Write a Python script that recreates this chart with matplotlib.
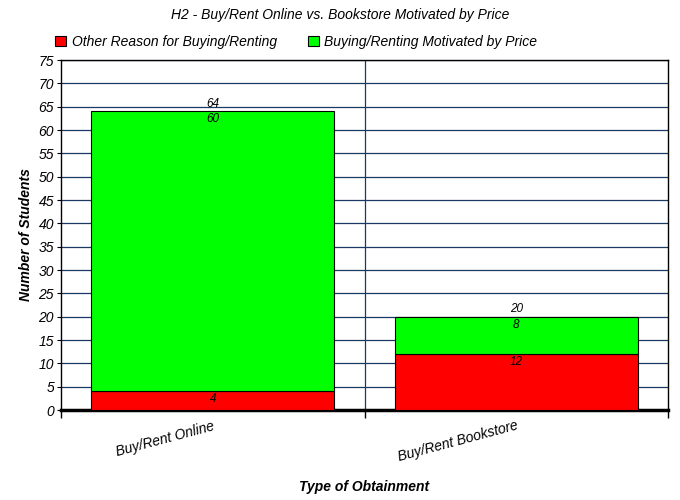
import numpy as np
from matplotlib import pyplot as plt

categories = ['Buy/Rent Online', 'Buy/Rent Bookstore']
other = [4, 12]
price = [60, 8]
totals = [64, 20]
yticks = list(range(0, 80, 5))

plt.rcParams['font.family'] = ['Liberation Sans', 'DejaVu Sans']
plt.rcParams['font.style'] = 'italic'

fig = plt.figure(figsize=(6.8, 5), dpi=100)
ax = fig.add_axes([61/680, 90/500, 607/680, 350/500])

x = np.arange(len(categories))
b1 = ax.bar(x, other, width=0.8, color='#ff0000', edgecolor='black', linewidth=0.8,
            label='Other Reason for Buying/Renting', zorder=3)
b2 = ax.bar(x, price, width=0.8, bottom=other, color='#00ff00', edgecolor='black',
            linewidth=0.8, label='Buying/Renting Motivated by Price', zorder=3)

for i in range(len(categories)):
    ax.text(x[i], other[i] - 0.4, str(other[i]), ha='center', va='top', fontsize=8.5, zorder=4)
    ax.text(x[i], other[i] + price[i] - 0.4, str(price[i]), ha='center', va='top', fontsize=8.5, zorder=4)
    ax.text(x[i], totals[i] + 0.3, str(totals[i]), ha='center', va='bottom', fontsize=8.5, zorder=4)

ax.set_xlim(-0.5, 1.5)
ax.set_ylim(0, 75)
ax.set_yticks(yticks)
ax.set_yticklabels([str(t) for t in yticks], fontsize=10)
ax.yaxis.grid(True, color='#1a3a66', linewidth=0.9, zorder=0)
ax.axvline(0.5, color='#1a3a66', linewidth=0.9, zorder=0)

ax.set_xticks([-0.5, 0.5, 1.5])
ax.set_xticklabels([])
ax.tick_params(axis='x', length=6, width=1)
ax.tick_params(axis='y', length=3, pad=2)
for i, c in enumerate(categories):
    ax.text(x[i], -1.9, c, rotation=15, ha='right', va='top', fontsize=10,
            rotation_mode='anchor', transform=ax.transData)

for s in ax.spines.values():
    s.set_color('black')
    s.set_linewidth(1)
ax.spines['bottom'].set_linewidth(2.5)

ax.set_ylabel('Number of Students', fontsize=10, fontweight='bold')
ax.set_xlabel('Type of Obtainment', fontsize=10, fontweight='bold')
ax.xaxis.set_label_coords(0.5, -0.2)
fig.text(0.5, 0.985, 'H2 - Buy/Rent Online vs. Bookstore Motivated by Price',
         ha='center', va='top', fontsize=10)

fig.legend(handles=[b1, b2], loc='upper left', bbox_to_anchor=(0.063, 0.955), ncol=2,
           frameon=False, fontsize=10, handlelength=0.8, handleheight=0.8,
           columnspacing=2.2, handletextpad=0.4)

fig.savefig('out.png', dpi=100)
